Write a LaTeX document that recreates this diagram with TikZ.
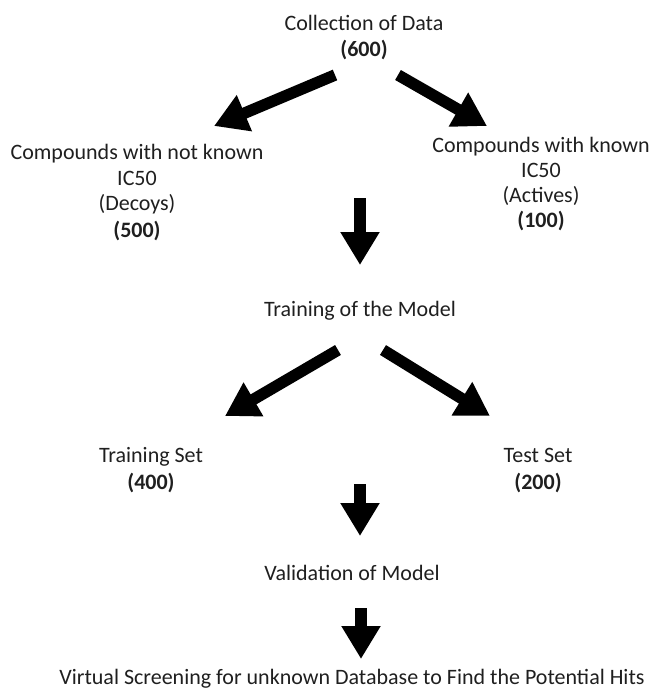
\documentclass[tikz,border=0pt]{standalone}
\usepackage{fontspec}
\setmainfont{Carlito}
\usetikzlibrary{arrows.meta}
\begin{document}
\begin{tikzpicture}[x=1pt,y=-1pt,
  lbl/.style={anchor=base,inner sep=0pt,font=\fontsize{22}{26}\selectfont,text=black!88},
  num/.style={lbl,font=\fontsize{22}{26}\selectfont\bfseries},
  blockarrow/.style={line width=11.5pt,-{Triangle[width=37pt,length=33pt]}}]
\useasboundingbox (0,0) rectangle (652,688);
% texts
\node[lbl] (coll) at (364,30) {Collection of Data};
\node[num] (coll n) at (364,56) {(600)};
\node[lbl] (dec1) at (137,159) {Compounds with not known};
\node[lbl] (dec2) at (137,185) {IC50};
\node[lbl] (dec3) at (137,210) {(Decoys)};
\node[num] (dec n) at (137,237) {(500)};
\node[lbl] (act1) at (541,152) {Compounds with known};
\node[lbl] (act2) at (541,177) {IC50};
\node[lbl] (act3) at (541,202) {(Actives)};
\node[num] (act n) at (541,227) {(100)};
\node[lbl] (train) at (360,316) {Training of the Model};
\node[lbl] (tset) at (151,462) {Training Set};
\node[num] (tset n) at (151,489) {(400)};
\node[lbl] (test) at (538,462) {Test Set};
\node[num] (test n) at (538,489) {(200)};
\node[lbl] (valid) at (352,580) {Validation of Model};
\node[lbl] (vs) at (352,684) {Virtual Screening for unknown Database to Find the Potential Hits};
% arrow end points
\coordinate (a1s) at (335,75);  \coordinate (a1e) at (214,126);
\coordinate (a2s) at (398,75);  \coordinate (a2e) at (487,126);
\coordinate (v1s) at (360,198); \coordinate (v1e) at (360,265);
\coordinate (a3s) at (338,350); \coordinate (a3e) at (225,416);
\coordinate (a4s) at (383,350); \coordinate (a4e) at (490,416);
\coordinate (v2s) at (360,484); \coordinate (v2e) at (360,536);
\coordinate (v3s) at (361,608); \coordinate (v3e) at (361,659);
% arrows
\draw[blockarrow] (a1s) -- (a1e);
\draw[blockarrow] (a2s) -- (a2e);
\draw[blockarrow] (v1s) -- (v1e);
\draw[blockarrow] (a3s) -- (a3e);
\draw[blockarrow] (a4s) -- (a4e);
\draw[blockarrow] (v2s) -- (v2e);
\draw[blockarrow] (v3s) -- (v3e);
\end{tikzpicture}
\end{document}
